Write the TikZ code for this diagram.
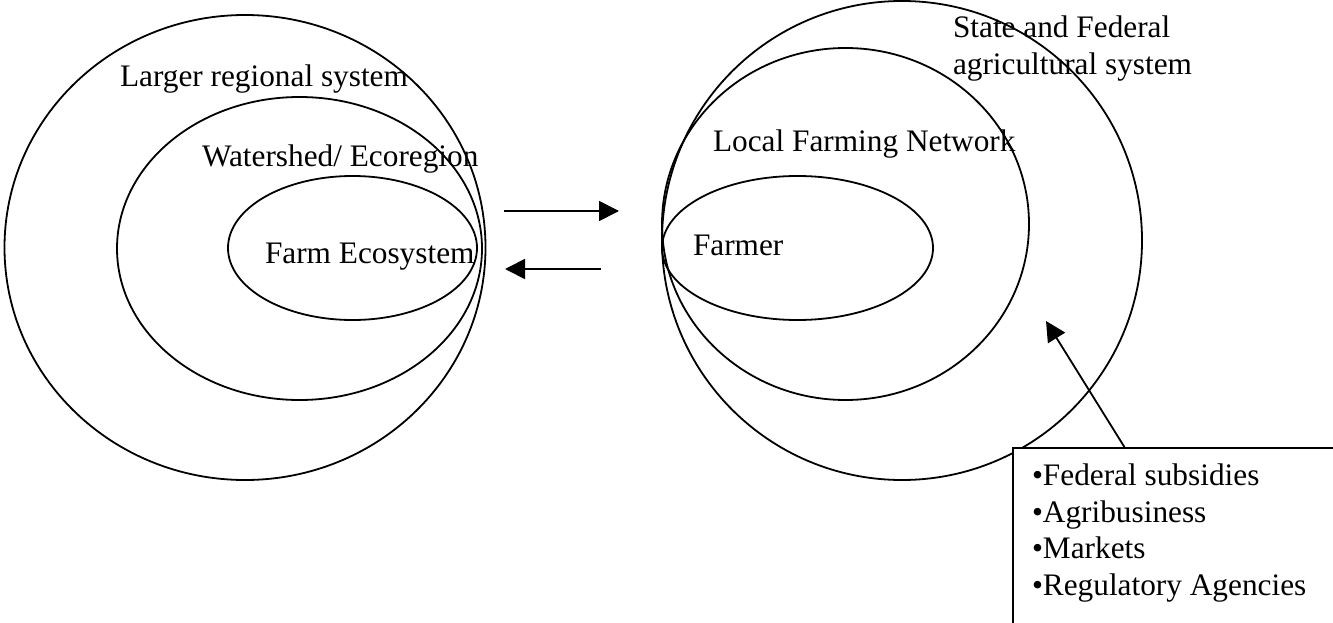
\documentclass[tikz,border=0pt]{standalone}
\usepackage{fontspec}
\setmainfont{Liberation Serif}
\usetikzlibrary{arrows.meta,shapes.geometric}

\begin{document}
\begin{tikzpicture}[x=1pt,y=-1pt,
  every node/.style={inner sep=0pt, outer sep=0pt},
  ring/.style={draw, ellipse, line width=1.8pt},
  lbl/.style={anchor=base west, font=\fontsize{31.3}{36.7}\selectfont},
  flow/.style={line width=1.8pt, -{Triangle[length=20pt,width=20pt]}},
  listbox/.style={draw, fill=white, line width=1.8pt, anchor=north west,
                  minimum width=340pt, minimum height=200pt}
]
\useasboundingbox (0,0) rectangle (1333,623);
\clip (0,0) rectangle (1333,623);

% ecological side
\node[ring, minimum width=481pt, minimum height=465pt] (region) at (245,247.5) {};
\node[ring, minimum width=365pt, minimum height=303pt] (watershed) at (299.5,248.5) {};
\node[ring, minimum width=249pt, minimum height=144pt] (farmeco) at (352.5,248) {};

\node[lbl] (tregion) at (120,87) {Larger regional system};
\node[lbl] (twatershed) at (202,166) {Watershed/ Ecoregion};
\node[lbl] (tfarmeco) at (265,263) {Farm Ecosystem};

% social / agricultural side
\node[ring, minimum width=480pt, minimum height=479pt] (statefed) at (902,240.5) {};
\node[ring, minimum width=367pt, minimum height=352pt] (network) at (845.5,224) {};
\node[ring, minimum width=271pt, minimum height=144pt] (farmer) at (797.5,248) {};

\node[lbl] (tstate1) at (953,38) {State and Federal};
\node[lbl] (tstate2) at (953,75) {agricultural system};
\node[lbl] (tnetwork) at (713,151) {Local Farming Network};
\node[lbl] (tfarmer) at (693,255) {Farmer};

% exchange between the two systems
\coordinate (outA) at (504,211);
\coordinate (inA) at (619,211);
\coordinate (outB) at (601,269);
\coordinate (inB) at (505,269);
\draw[flow] (outA) -- (inA);
\draw[flow] (outB) -- (inB);

% external influences
\node[listbox] (box) at (1013,448) {};
\node[lbl] (i1) at (1032,485) {•Federal subsidies};
\node[lbl] (i2) at (1032,522) {•Agribusiness};
\node[lbl] (i3) at (1032,558.5) {•Markets};
\node[lbl] (i4) at (1032,595) {•Regulatory Agencies};

\coordinate (boxtop) at (1125,448);
\coordinate (target) at (1046,321);
\draw[flow] (boxtop) -- (target);
\end{tikzpicture}
\end{document}
